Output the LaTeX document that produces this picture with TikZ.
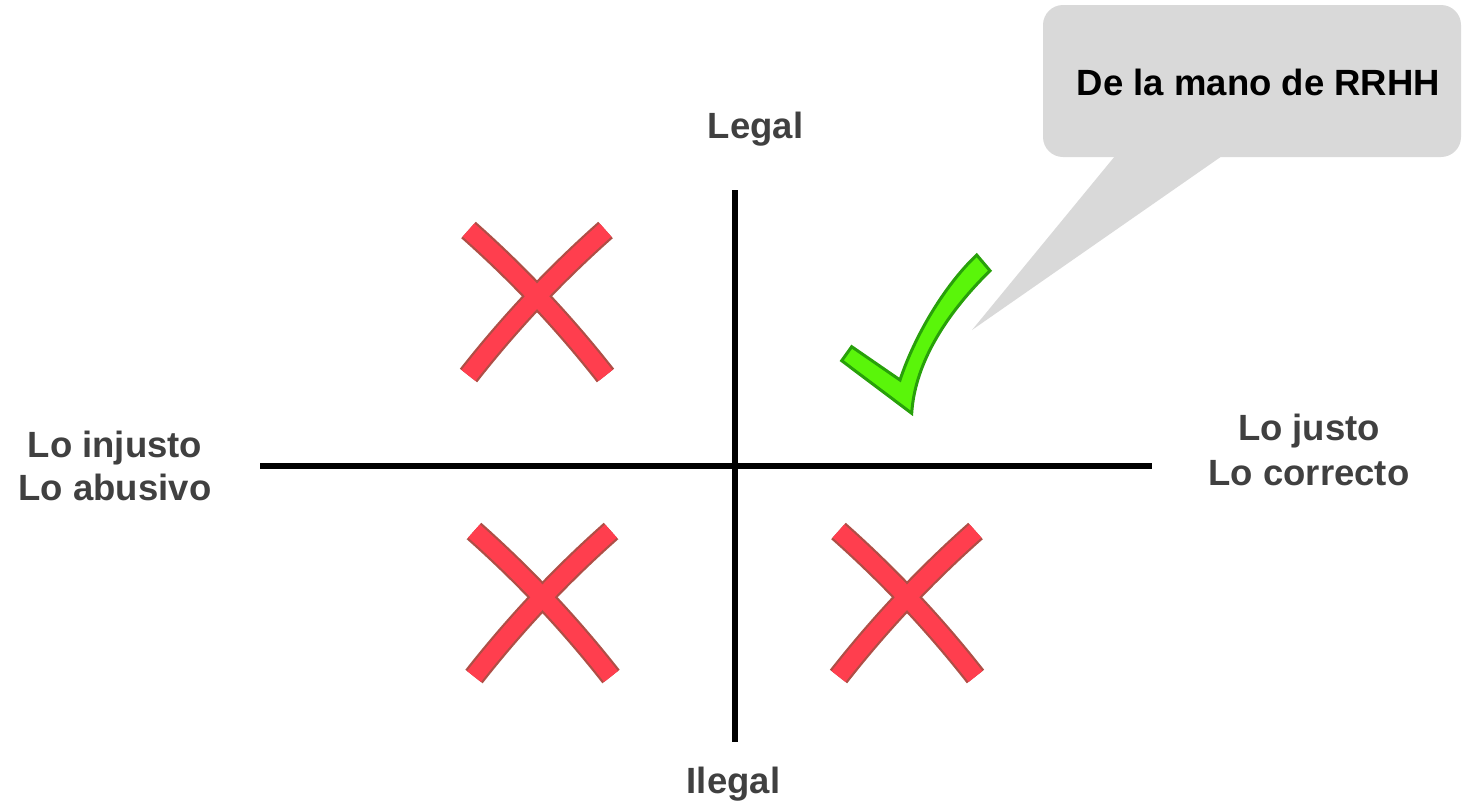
\documentclass[tikz,border=0pt]{standalone}
\usepackage{fontspec}
\setmainfont{Liberation Sans}
\definecolor{labelgray}{RGB}{64,64,64}
\definecolor{calloutgray}{RGB}{217,217,217}
\definecolor{xfill}{RGB}{255,62,78}
\definecolor{xedge}{RGB}{175,78,70}
\definecolor{checkfill}{RGB}{90,245,10}
\definecolor{checkedge}{RGB}{40,160,10}
\begin{document}
\begin{tikzpicture}[x=1pt,y=-1pt,
  axisline/.style={line width=6pt,black},
  lbl/.style={font=\fontsize{36.5}{43}\selectfont\bfseries,text=labelgray,inner sep=0pt,align=center},
  lblwide/.style={lbl,font=\fontsize{36.5}{45}\selectfont\bfseries},
  bubble/.style={fill=calloutgray},
  xmark/.pic={
    % two slightly bowed strokes: outline layer first, then the fill layer
    \foreach \w/\c in {22/xedge,17.5/xfill}{
      \draw[line width=\w pt,color=\c]
        (-68.5,-67) .. controls (-18.4,-22.6) and (27.2,25.9) .. (68.5,78.5);
      \draw[line width=\w pt,color=\c]
        (68.5,-67) .. controls (18.4,-22.6) and (-27.2,25.9) .. (-68.5,78.5);
    }
  }]
\useasboundingbox (0,0) rectangle (1463,807);

% speech bubble
\fill[bubble,rounded corners=20pt] (1043,5) rectangle (1461,157);
\fill[bubble] (1115,156) -- (972,330) -- (1222,156) -- cycle;
\node[anchor=base,inner sep=0pt,font=\fontsize{36.5}{43}\selectfont\bfseries,text=black]
  (rrhh) at (1258.5,95) {De la mano de RRHH};

% axes
\coordinate (top) at (734.5,190);
\coordinate (bottom) at (734.5,742);
\coordinate (left) at (260,466);
\coordinate (right) at (1152,466);
\draw[axisline] (top) -- (bottom);
\draw[axisline] (left) -- (right);

% axis labels
\node[lbl,anchor=base] (legal) at (755.5,138) {Legal};
\node[lbl,anchor=base] (ilegal) at (733.5,793) {Ilegal};
\node[lbl] (unjust) at (115,465.5) {Lo injusto\\Lo abusivo};
\node[lblwide] (just) at (1309,449.7) {Lo justo\\Lo correcto};

% quadrant marks
\pic (xa) at (537,297) {xmark};
\pic (xb) at (542.5,598) {xmark};
\pic (xc) at (907,598) {xmark};

\draw[checkedge,fill=checkfill,line width=3pt,line join=miter]
  (841.7,360.7) -- (851.7,346.7) -- (900,380)
  .. controls (915,335) and (945,285) .. (976.7,255)
  -- (990,270.7)
  .. controls (950,310) and (915,360) .. (911.7,413.3) -- cycle;
\end{tikzpicture}
\end{document}
